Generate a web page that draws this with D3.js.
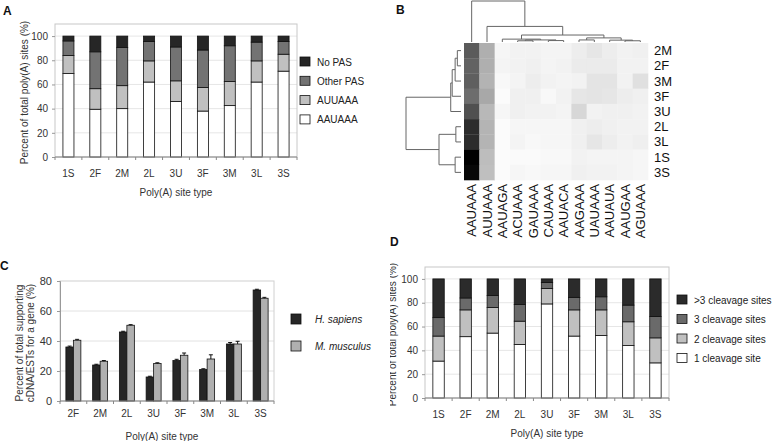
<!DOCTYPE html>
<html>
<head>
<meta charset="utf-8">
<script src="https://cdn.jsdelivr.net/npm/d3@7"></script>
<style>
  body { margin: 0; background: #fff; }
  svg { display: block; font-family: "Liberation Sans", Arial, sans-serif; }
</style>
</head>
<body>
<div class="canvas"></div>
<script>
// ---------- data ----------
// panel A / D categories
const siteTypes = ['1S', '2F', '2M', '2L', '3U', '3F', '3M', '3L', '3S'];

// panel A: PAS composition (%), bottom to top
const pasKeys = ['AAUAAA', 'AUUAAA', 'Other PAS', 'No PAS'];
const aauaaa   = [69, 39.5, 40, 62, 46, 38, 42.5, 62, 71];
const auuaaa   = [15, 17, 19, 17.5, 17, 19.5, 20, 17.5, 14];
const otherPas = [12, 30.5, 31.5, 16, 28, 31, 29.5, 15.5, 10.5];
const noPas    = [4, 13, 9.5, 4.5, 9, 11.5, 8, 5, 4.5];

// panel D: number of cleavage sites (%), bottom to top
const cleaveKeys = ['1 cleavage site', '2 cleavage sites', '3 cleavage sites', '>3 cleavage sites'];
const cleave1    = [31, 51.5, 54.5, 45, 79, 52, 52.5, 44, 29.5];
const cleave2    = [21, 22.5, 21.5, 19.5, 13, 22, 21.5, 20, 21];
const cleave3    = [15.5, 10, 10, 14, 5, 10.5, 11, 14, 18];
const cleaveMore = [32.5, 16, 14, 21.5, 3, 15.5, 15, 22, 31.5];

// panel C
const siteTypesC   = ['2F', '2M', '2L', '3U', '3F', '3M', '3L', '3S'];
const species      = ['H. sapiens', 'M. musculus'];
const hSapiens     = [36, 24, 46, 16, 27, 21, 38, 74];
const mMusculus    = [40.5, 26.5, 50.5, 25, 30.5, 28, 38, 68.5];
const hSapiensErr  = [0.6, 0.5, 0.5, 0.5, 0.8, 0.5, 1, 0.5];
const mMusculusErr = [0.6, 0.5, 0.4, 0.5, 1.5, 2.8, 1.8, 0.6];

// panel B heatmap
const hmRows = ['2M', '2F', '3M', '3F', '3U', '2L', '3L', '1S', '3S'];
const hmCols = ['AAUAAA', 'AUUAAA', 'AAUAGA', 'ACUAAA', 'GAUAAA', 'CAUAAA',
                'AAUACA', 'AAGAAA', 'UAUAAA', 'AAUAUA', 'AAUGAA', 'AGUAAA'];
const hmValues = [
  [45, 22, 2.5, 3.5, 3.5, 3, 3, 5, 7, 5, 3.5, 4],
  [43, 22, 3, 3.5, 4, 3, 3.5, 5.5, 5.5, 5.5, 3.5, 3.5],
  [44, 21, 2, 3, 5, 3.5, 3, 3.5, 7.5, 7.5, 3.5, 8.5],
  [40, 24, 1, 4, 4, 2, 3.5, 7, 7.5, 7, 5, 4],
  [48, 19.5, 2.5, 4, 3.5, 3.5, 3, 11, 3.5, 4, 4, 3.5],
  [58, 20.5, 1, 2.5, 2.5, 2.5, 2.5, 4, 5, 4, 3.5, 3.5],
  [58, 20.5, 1, 3, 2, 2.5, 2.5, 4, 7, 5, 3.5, 4.5],
  [70, 18, 1, 1.5, 1.5, 2, 2, 3.5, 3, 3, 3, 2.5],
  [68, 17.5, 1, 2.5, 2, 2.5, 2.5, 4, 3.5, 3.5, 3, 2.5]
];
// dendrograms: [left, right, height]
const rowTree = [[[[['2M', '2F', 0.05], '3M', 0.08], '3F', 0.12], '3U', 0.14],
                 [['2L', '3L', 0.07], ['1S', '3S', 0.08], 0.30], 0.75];
const colTree = ['AAUAAA',
  ['AUUAAA',
    [['AAUAGA', [['ACUAAA', 'GAUAAA', 0.03], ['CAUAAA', 'AAUACA', 0.035], 0.05], 0.07],
     [['AAGAAA', 'UAUAAA', 0.05], ['AAUAUA', ['AAUGAA', 'AGUAAA', 0.03], 0.045], 0.1], 0.17],
    0.38],
  1.0];

// ---------- svg ----------
const svg = d3.select('.canvas')
  .append('svg')
  .attr('width', 772)
  .attr('height', 441);

// panel D's y title is cut by the panel edge in the figure
svg.append('clipPath').attr('id', 'clipD')
  .append('rect').attr('x', 390).attr('y', 0).attr('width', 382).attr('height', 441);

const panelLetter = (txt, x, y) => {
  svg.append('text').attr('x', x).attr('y', y)
    .attr('font-size', 12).attr('font-weight', 'bold').attr('fill', '#111').text(txt);
};

// stacked 100% bar panel (A and D)
const stackedPanel = (cfg) => {
  const g = svg.append('g');
  if (cfg.clip) g.attr('clip-path', `url(#${cfg.clip})`);
  const x = d3.scaleBand().domain(siteTypes).range([cfg.left, cfg.right])
    .paddingInner(cfg.pad).paddingOuter(cfg.pad / 2);
  const y = d3.scaleLinear().domain([0, 110]).range([cfg.bottom, cfg.top]);

  g.selectAll('.grid').data([20, 40, 60, 80, 100]).enter().append('line')
    .attr('x1', cfg.left).attr('x2', cfg.right)
    .attr('y1', d => y(d)).attr('y2', d => y(d))
    .attr('stroke', '#e6e6e6');

  g.append('rect')
    .attr('x', cfg.left).attr('y', cfg.top)
    .attr('width', cfg.right - cfg.left).attr('height', cfg.bottom - cfg.top)
    .attr('fill', 'none').attr('stroke', '#c8c8c8');

  const rows = siteTypes.map((c, i) => {
    const o = { cat: c };
    cfg.keys.forEach((k, j) => o[k] = cfg.series[j][i]);
    return o;
  });
  const layers = d3.stack().keys(cfg.keys)(rows);

  g.selectAll('.layer').data(layers).enter().append('g')
    .attr('fill', (d, i) => cfg.colors[i])
    .selectAll('rect').data(d => d).enter().append('rect')
    .attr('x', d => x(d.data.cat))
    .attr('width', x.bandwidth())
    .attr('y', d => y(d[1]))
    .attr('height', d => y(d[0]) - y(d[1]))
    .attr('stroke', '#111').attr('stroke-width', 0.8);

  // y axis
  const ya = g.append('g').attr('transform', `translate(${cfg.left},0)`)
    .call(d3.axisLeft(y).tickValues([0, 20, 40, 60, 80, 100]).tickSize(3).tickPadding(4));
  ya.select('.domain').remove();
  ya.selectAll('line').attr('stroke', '#999');
  ya.selectAll('text').attr('font-size', 10).attr('fill', '#333').attr('font-family', null);

  // x axis: line, ticks between categories, labels
  g.append('line').attr('x1', cfg.left).attr('x2', cfg.right)
    .attr('y1', cfg.bottom).attr('y2', cfg.bottom).attr('stroke', '#888');
  g.selectAll('.xt').data(d3.range(siteTypes.length + 1)).enter().append('line')
    .attr('x1', i => cfg.left + i * x.step()).attr('x2', i => cfg.left + i * x.step())
    .attr('y1', cfg.bottom).attr('y2', cfg.bottom + 3).attr('stroke', '#888');
  g.selectAll('.xl').data(siteTypes).enter().append('text')
    .attr('x', d => x(d) + x.bandwidth() / 2).attr('y', cfg.bottom + 20)
    .attr('text-anchor', 'middle').attr('font-size', 10).attr('fill', '#333').text(d => d);
  g.append('text')
    .attr('x', (cfg.left + cfg.right) / 2).attr('y', cfg.bottom + 39)
    .attr('text-anchor', 'middle').attr('font-size', 10).attr('fill', '#333')
    .text('Poly(A) site type');
  g.append('text')
    .attr('transform', `translate(${cfg.titleX},${(cfg.top + cfg.bottom) / 2 + 2}) rotate(-90)`)
    .attr('text-anchor', 'middle').attr('dy', '0.35em')
    .attr('font-size', 10).attr('fill', '#333')
    .text('Percent of total poly(A) sites (%)');

  // legend, top item is the last series
  const leg = g.selectAll('.leg').data(cfg.keys.slice().reverse()).enter().append('g')
    .attr('transform', (d, i) => `translate(${cfg.legX},${cfg.legY + i * cfg.legStep})`);
  leg.append('rect').attr('width', 10).attr('height', 9)
    .attr('fill', (d, i) => cfg.colors[cfg.keys.length - 1 - i])
    .attr('stroke', '#111').attr('stroke-width', 0.8);
  leg.append('text').attr('x', 17).attr('y', 8.5)
    .attr('font-size', 10).attr('fill', '#222').text(d => d);
};

// ---------- panel A ----------
panelLetter('A', 3, 15);
stackedPanel({
  keys: pasKeys,
  series: [aauaaa, auuaaa, otherPas, noPas],
  colors: ['#ffffff', '#c0c0c0', '#737373', '#262626'],
  left: 55, right: 297, top: 24, bottom: 157, pad: 0.59,
  titleX: 24, legX: 300, legY: 57, legStep: 19.3
});

// ---------- panel D ----------
panelLetter('D', 390, 246);
stackedPanel({
  keys: cleaveKeys,
  series: [cleave1, cleave2, cleave3, cleaveMore],
  colors: ['#ffffff', '#c0c0c0', '#6a6a6a', '#2b2b2b'],
  left: 425, right: 669, top: 267, bottom: 398, pad: 0.58,
  titleX: 392, legX: 677, legY: 295, legStep: 19.5, clip: 'clipD'
});

// ---------- panel B ----------
panelLetter('B', 396, 14);
const hb = svg.append('g');
const hx = d3.scaleBand().domain(hmCols).range([464, 648]);
const hy = d3.scaleBand().domain(hmRows).range([43, 180]);
const gray = d3.scaleLinear().domain([0, 70]).range(['#ffffff', '#000000']).clamp(true);

const cells = [];
hmRows.forEach((r, i) => hmCols.forEach((c, j) => cells.push({ r, c, v: hmValues[i][j] })));
hb.selectAll('.cell').data(cells).enter().append('rect')
  .attr('x', d => hx(d.c)).attr('y', d => hy(d.r))
  .attr('width', hx.bandwidth() + 0.3).attr('height', hy.bandwidth() + 0.3)
  .attr('fill', d => gray(d.v));

hb.selectAll('.rl').data(hmRows).enter().append('text')
  .attr('x', 654).attr('y', d => hy(d) + hy.bandwidth() / 2).attr('dy', '0.35em')
  .attr('font-size', 13).attr('fill', '#111').text(d => d);
hb.selectAll('.cl').data(hmCols).enter().append('text')
  .attr('transform', d => `translate(${hx(d) + hx.bandwidth() / 2},184) rotate(-90)`)
  .attr('text-anchor', 'end').attr('dy', '0.35em')
  .attr('font-size', 13).attr('fill', '#111').text(d => d);

// elbow dendrogram drawing
const drawTree = (node, pos, hs, vertical) => {
  if (typeof node === 'string') return { p: pos(node), h: 0 };
  const a = drawTree(node[0], pos, hs, vertical);
  const b = drawTree(node[1], pos, hs, vertical);
  const h = node[2];
  const d = vertical
    ? `M${a.p},${hs(a.h)}V${hs(h)}H${b.p}V${hs(b.h)}`
    : `M${hs(a.h)},${a.p}H${hs(h)}V${b.p}H${hs(b.h)}`;
  hb.append('path').attr('d', d).attr('fill', 'none').attr('stroke', '#666').attr('stroke-width', 1);
  return { p: (a.p + b.p) / 2, h };
};
drawTree(rowTree, r => hy(r) + hy.bandwidth() / 2, d3.scaleLinear().domain([0, 0.75]).range([461, 406]), false);
drawTree(colTree, c => hx(c) + hx.bandwidth() / 2, d3.scaleLinear().domain([0, 1]).range([42, 1]), true);

// ---------- panel C ----------
panelLetter('C', 0, 270);
const gc = svg.append('g');
const cdim = { left: 60, right: 274, top: 281, bottom: 401 };
const cx = d3.scaleBand().domain(siteTypesC).range([cdim.left, cdim.right])
  .paddingInner(0.44).paddingOuter(0.22);
const cx2 = d3.scaleBand().domain(species).range([0, cx.bandwidth()]);
const cy = d3.scaleLinear().domain([0, 80]).range([cdim.bottom, cdim.top]);
const cColors = ['#262626', '#b0b0b0'];

gc.selectAll('.grid').data([20, 40, 60]).enter().append('line')
  .attr('x1', cdim.left).attr('x2', cdim.right)
  .attr('y1', d => cy(d)).attr('y2', d => cy(d)).attr('stroke', '#e2e2e2');
gc.append('rect')
  .attr('x', cdim.left).attr('y', cdim.top)
  .attr('width', cdim.right - cdim.left).attr('height', cdim.bottom - cdim.top)
  .attr('fill', 'none').attr('stroke', '#d0d0d0');

const cBars = [];
siteTypesC.forEach((t, i) => {
  cBars.push({ t, s: species[0], v: hSapiens[i], e: hSapiensErr[i], k: 0 });
  cBars.push({ t, s: species[1], v: mMusculus[i], e: mMusculusErr[i], k: 1 });
});
gc.selectAll('.bar').data(cBars).enter().append('rect')
  .attr('x', d => cx(d.t) + cx2(d.s)).attr('width', cx2.bandwidth())
  .attr('y', d => cy(d.v)).attr('height', d => cy(0) - cy(d.v))
  .attr('fill', d => cColors[d.k]).attr('stroke', '#111').attr('stroke-width', 0.8);
// error bars (plus side)
gc.selectAll('.err').data(cBars).enter().append('path')
  .attr('d', d => {
    const xm = cx(d.t) + cx2(d.s) + cx2.bandwidth() / 2;
    return `M${xm},${cy(d.v)}V${cy(d.v + d.e)}M${xm - 2},${cy(d.v + d.e)}H${xm + 2}`;
  })
  .attr('stroke', '#111').attr('stroke-width', 1).attr('fill', 'none');

const cya = gc.append('g').attr('transform', `translate(${cdim.left},0)`)
  .call(d3.axisLeft(cy).tickValues([0, 20, 40, 60, 80]).tickSize(3).tickPadding(5));
cya.select('.domain').attr('stroke', '#999');
cya.selectAll('line').attr('stroke', '#999');
cya.selectAll('text').attr('font-size', 11).attr('fill', '#333');

gc.append('line').attr('x1', cdim.left).attr('x2', cdim.right)
  .attr('y1', cdim.bottom).attr('y2', cdim.bottom).attr('stroke', '#888');
gc.selectAll('.xt').data(d3.range(siteTypesC.length + 1)).enter().append('line')
  .attr('x1', i => cdim.left + i * cx.step()).attr('x2', i => cdim.left + i * cx.step())
  .attr('y1', cdim.bottom).attr('y2', cdim.bottom + 3).attr('stroke', '#888');
gc.selectAll('.xl').data(siteTypesC).enter().append('text')
  .attr('x', d => cx(d) + cx.bandwidth() / 2).attr('y', 417)
  .attr('text-anchor', 'middle').attr('font-size', 10).attr('fill', '#333').text(d => d);
gc.append('text').attr('x', 162).attr('y', 440).attr('text-anchor', 'middle')
  .attr('font-size', 10).attr('fill', '#333').text('Poly(A) site type');
gc.append('text')
  .attr('transform', `translate(19,343) rotate(-90)`).attr('text-anchor', 'middle').attr('dy', '0.35em')
  .attr('font-size', 10).attr('fill', '#333').text('Percent of total supporting');
gc.append('text')
  .attr('transform', `translate(30,343) rotate(-90)`).attr('text-anchor', 'middle').attr('dy', '0.35em')
  .attr('font-size', 10).attr('fill', '#333').text('cDNA/ESTs for a gene (%)');

const cleg = gc.selectAll('.leg').data(species).enter().append('g')
  .attr('transform', (d, i) => `translate(291,${314 + i * 27})`);
cleg.append('rect').attr('width', 10).attr('height', 10)
  .attr('fill', (d, i) => cColors[i]).attr('stroke', '#111').attr('stroke-width', 0.8);
cleg.append('text').attr('x', 24).attr('y', 9)
  .attr('font-size', 10).attr('font-style', 'italic').attr('fill', '#222').text(d => d);
</script>
</body>
</html>
